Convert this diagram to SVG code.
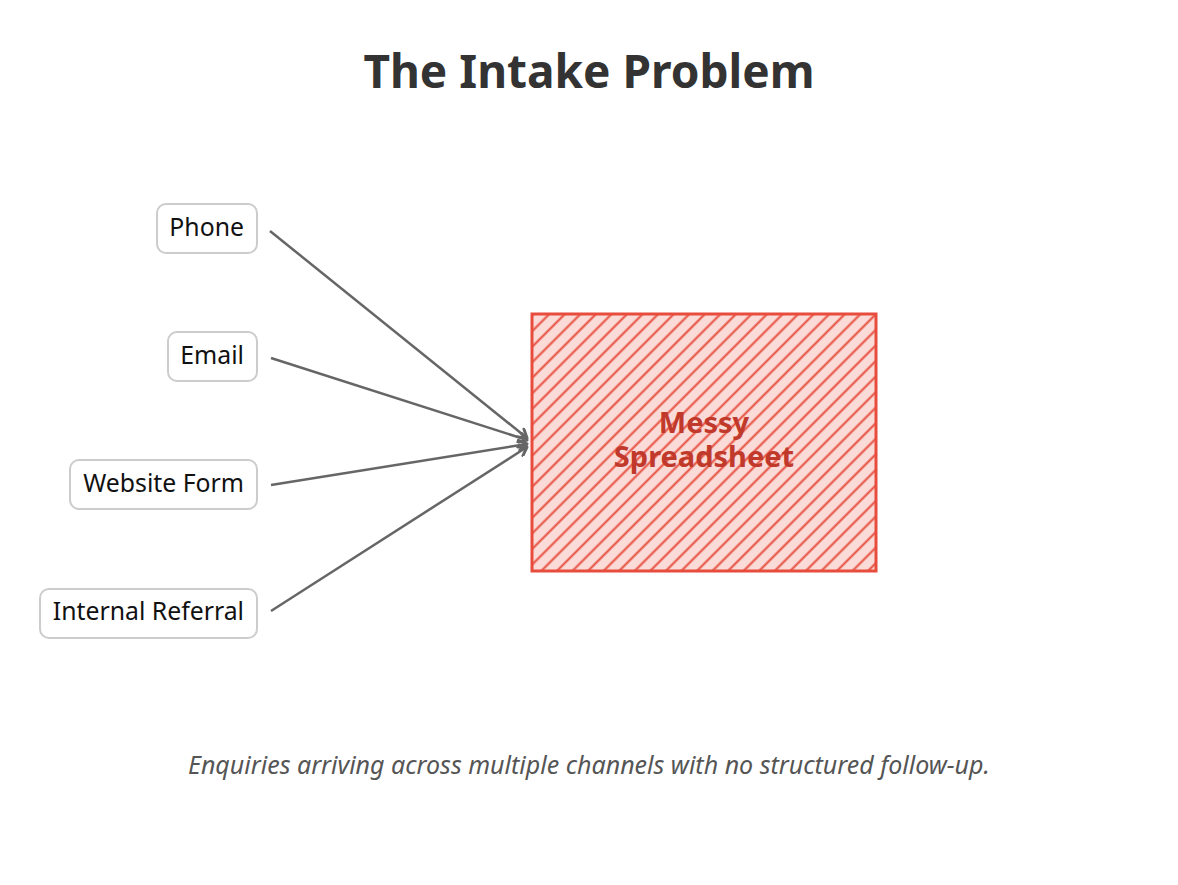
<svg xmlns="http://www.w3.org/2000/svg" width="1178" height="885" viewBox="0 0 1178 885">
  <style>
    .title { font-family: "Noto Sans", "Open Sans", sans-serif; font-weight: bold; font-size: 46px; fill: #333333; }
    .node rect { fill: #ffffff; stroke: #cccccc; stroke-width: 2; }
    .node text { font-family: "Noto Sans", "Open Sans", sans-serif; font-size: 24.8px; fill: #111111; text-anchor: end; }
    .conn { stroke: #666666; stroke-width: 2.5; fill: none; marker-end: url(#arrow); }
    .sheet-label { font-family: "Noto Sans", "Open Sans", sans-serif; font-weight: bold; font-size: 29px; fill: #c0392b; text-anchor: middle; }
    .caption { font-family: "Noto Sans", "Open Sans", sans-serif; font-style: italic; font-size: 25px; fill: #555555; text-anchor: middle; }
  </style>
  <defs>
    <marker id="arrow" viewBox="0 0 12 12" refX="10" refY="6" markerWidth="12" markerHeight="12" markerUnits="userSpaceOnUse" orient="auto">
      <path d="M2,1 L10,6 L2,11" fill="none" stroke="#666666" stroke-width="3" stroke-linecap="round" stroke-linejoin="round"/>
    </marker>
    <pattern id="hatch" width="11" height="11" patternUnits="userSpaceOnUse" patternTransform="rotate(45)">
      <rect width="11" height="11" fill="#fadbd8"/>
      <line x1="5.5" y1="0" x2="5.5" y2="11" stroke="#e74c3c" stroke-width="2"/>
    </pattern>
  </defs>
  <rect width="1178" height="885" fill="#ffffff"/>
  <text class="title" x="589" y="88" text-anchor="middle">The Intake Problem</text>

  <g id="connectors">
    <line class="conn" x1="270" y1="231" x2="527" y2="438"/>
    <line class="conn" x1="271" y1="358" x2="527" y2="440"/>
    <line class="conn" x1="271" y1="485" x2="527" y2="444"/>
    <line class="conn" x1="271" y1="611" x2="527" y2="447"/>
  </g>

  <g id="node-phone" class="node">
    <rect x="157" y="204" width="100" height="49" rx="9"/>
    <text x="244" y="236">Phone</text>
  </g>
  <g id="node-email" class="node">
    <rect x="168" y="332" width="89" height="49" rx="9"/>
    <text x="244" y="364">Email</text>
  </g>
  <g id="node-website" class="node">
    <rect x="70" y="460" width="187" height="49" rx="9"/>
    <text x="244" y="492">Website Form</text>
  </g>
  <g id="node-referral" class="node">
    <rect x="40" y="589" width="217" height="49" rx="9"/>
    <text x="244" y="620">Internal Referral</text>
  </g>

  <g id="node-spreadsheet">
    <rect x="532" y="314" width="344" height="257" fill="url(#hatch)" stroke="#e74c3c" stroke-width="3"/>
    <text class="sheet-label" x="704" y="433">Messy</text>
    <text class="sheet-label" x="704" y="467">Spreadsheet</text>
  </g>

  <text class="caption" x="589" y="774">Enquiries arriving across multiple channels with no structured follow-up.</text>
</svg>
